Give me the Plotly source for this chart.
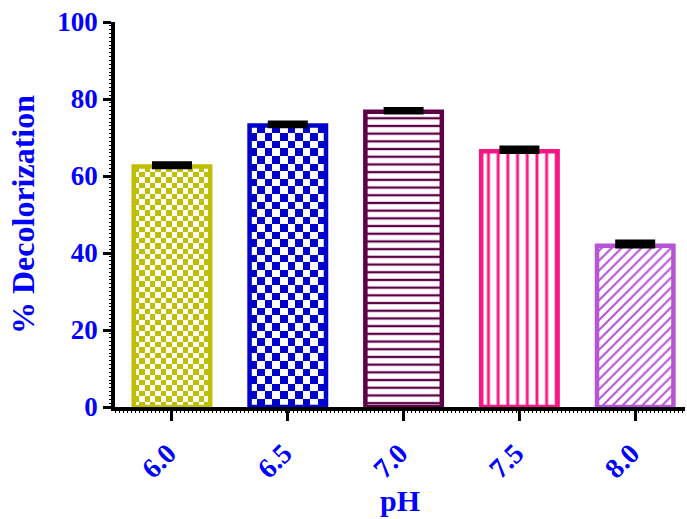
import numpy as np
import plotly.graph_objects as go

# pH levels and measured decolorization (%) with upper error
ph_labels = ["6.0", "6.5", "7.0", "7.5", "8.0"]
decolorization = [62.5, 73.1, 76.7, 66.4, 41.9]
error_up = [0.6, 0.6, 0.5, 0.8, 0.9]

# bar styling
bar_colors = ["#BFBF00", "#0000CC", "#5E0046", "#FA1683", "#B655D6"]
pattern_shapes = ["", "", "-", "|", "/"]
pattern_sizes = [8, 8, 7.7, 9.7, 7]
checker_cells = {0: 14, 1: 10}  # columns of the checkerboard fill for the first two bars

positions = list(range(len(ph_labels)))
bar_width = 0.66
font_family = "Liberation Serif"
blue = "#0000FF"
transparent = "rgba(0,0,0,0)"

fig = go.Figure()

# checkerboard fills drawn as heatmaps beneath the bar outlines
for idx, ncols in checker_cells.items():
    x0 = positions[idx] - bar_width / 2
    x1 = positions[idx] + bar_width / 2
    cell_w_px = bar_width * 115.8 / ncols
    cell_h = cell_w_px / 3.85
    nrows = int(round(decolorization[idx] / cell_h))
    xe = np.linspace(x0, x1, ncols + 1)
    ye = np.linspace(0, decolorization[idx], nrows + 1)
    z = (np.add.outer(np.arange(nrows), np.arange(ncols)) % 2).astype(float)
    fig.add_trace(go.Heatmap(
        x=xe, y=ye, z=z, zmin=0, zmax=1,
        colorscale=[[0, "white"], [1, bar_colors[idx]]],
        showscale=False, hoverinfo="skip", zsmooth=False,
    ))

# one bar trace per pH level so each gets its own fill pattern
for i in positions:
    shape = pattern_shapes[i]
    if shape:
        pattern = dict(shape=shape, fgcolor=bar_colors[i], bgcolor="white",
                       size=pattern_sizes[i], solidity=0.3, fillmode="replace")
        fill = "white"
    else:
        pattern = dict(shape="")
        fill = transparent
    fig.add_trace(go.Bar(
        x=[positions[i]],
        y=[decolorization[i]],
        width=bar_width,
        marker=dict(color=fill, line=dict(color=bar_colors[i], width=4.5), pattern=pattern),
        error_y=dict(
            type="data", symmetric=False, array=[error_up[i]], arrayminus=[0],
            color="black", thickness=5.5, width=20,
        ),
        showlegend=False,
    ))

fig.update_layout(
    width=687, height=519,
    margin=dict(l=115, r=2, t=22, b=112),
    paper_bgcolor="white", plot_bgcolor="white",
    barmode="overlay",
    xaxis=dict(
        range=[-0.492, 4.43],
        tickmode="array", tickvals=positions, ticktext=ph_labels,
        tickangle=-45,
        ticks="outside", ticklen=10, tickwidth=3, tickcolor="black",
        ticklabelstandoff=5, ticklabelshift=-4,
        showline=True, linewidth=3.5, linecolor="black",
        showgrid=False, zeroline=False,
        tickfont=dict(family=font_family, size=28, color=blue, weight="bold"),
        title=dict(text="pH", standoff=6,
                   font=dict(family=font_family, size=30, color=blue, weight="bold")),
        minor=dict(ticks="outside", ticklen=2, tickwidth=1, tickcolor="black", dtick=0.035),
    ),
    yaxis=dict(
        range=[0, 100],
        tickvals=[0, 20, 40, 60, 80, 100],
        ticks="outside", ticklen=8, tickwidth=3, tickcolor="black",
        showline=True, linewidth=3.5, linecolor="black",
        showgrid=False, zeroline=False,
        tickfont=dict(family=font_family, size=27, color=blue, weight="bold"),
        title=dict(text="% Decolorization", standoff=14,
                   font=dict(family=font_family, size=32, color=blue, weight="bold")),
        minor=dict(ticks="outside", ticklen=2, tickwidth=1, tickcolor="black", dtick=1),
    ),
)

fig.write_html("out.html")
